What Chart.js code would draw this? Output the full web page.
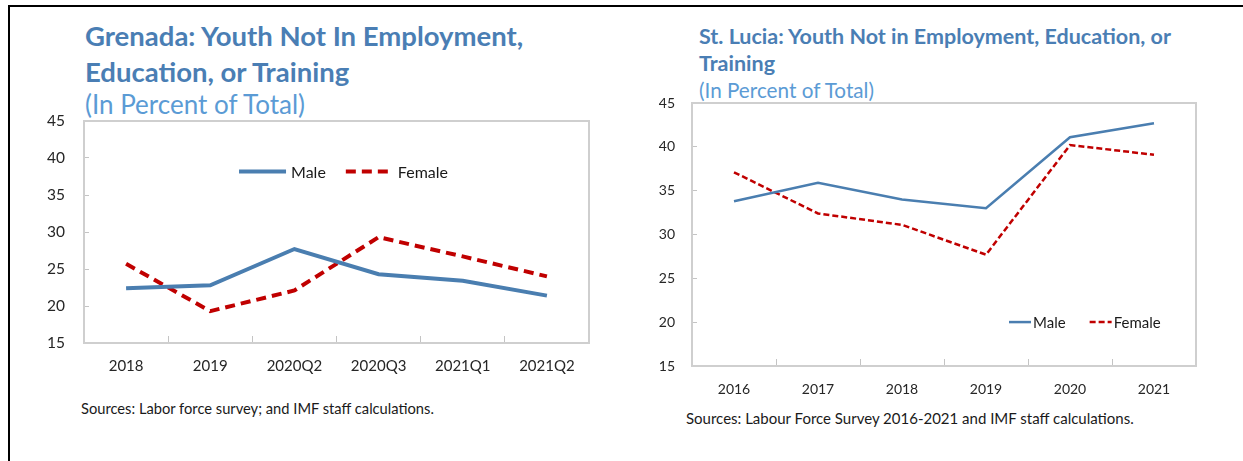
<!DOCTYPE html>
<html>
<head>
<meta charset="utf-8">
<title>Youth Not in Employment, Education, or Training</title>
<script src="https://cdn.jsdelivr.net/npm/chart.js@4.4.1/dist/chart.umd.min.js"></script>
<style>
  html, body { margin: 0; padding: 0; background: #fff; }
  body { width: 1243px; height: 461px; position: relative; overflow: hidden; font-family: Lato, "Open Sans", sans-serif; }
  .frame { position: absolute; left: 8px; top: 5px; width: 1250px; height: 470px; border-top: 2px solid #000; border-left: 2px solid #000; }
  .title { position: absolute; color: #4a7eb4; font-weight: bold; white-space: nowrap; }
  .subtitle { position: absolute; color: #5b9bd5; white-space: nowrap; line-height: 1.2; }
  .source { position: absolute; color: #1a1a1a; white-space: nowrap; }
  canvas { position: absolute; }
  #grenada-title { left: 85px; top: 18px; font-size: 27.5px; line-height: 36px; }
  #grenada-sub { left: 85px; top: 89px; font-size: 26px; }
  #lucia-title { left: 699px; top: 23px; font-size: 21.5px; line-height: 27px; }
  #lucia-sub { left: 699px; top: 78px; font-size: 20.7px; }
  #grenada-source { left: 81px; top: 399px; font-size: 14.7px; }
  #lucia-source { left: 686px; top: 409px; font-size: 15px; }
  #grenada { left: 30px; top: 108px; }
  #stlucia { left: 640px; top: 92px; }
</style>
</head>
<body>
<div class="frame"></div>

<div class="title" id="grenada-title">Grenada: Youth Not In Employment,<br>Education, or Training</div>
<div class="subtitle" id="grenada-sub">(In Percent of Total)</div>
<canvas id="grenada" width="575" height="275"></canvas>
<div class="source" id="grenada-source">Sources: Labor force survey; and IMF staff calculations.</div>

<div class="title" id="lucia-title">St. Lucia: Youth Not in Employment, Education, or<br>Training</div>
<div class="subtitle" id="lucia-sub">(In Percent of Total)</div>
<canvas id="stlucia" width="575" height="305"></canvas>
<div class="source" id="lucia-source">Sources: Labour Force Survey 2016-2021 and IMF staff calculations.</div>

<script>
// data
const grenadaLabels = ["2018", "2019", "2020Q2", "2020Q3", "2021Q1", "2021Q2"];
const grenadaMale = [22.4, 22.8, 27.7, 24.3, 23.4, 21.4];
const grenadaFemale = [25.7, 19.3, 22.1, 29.3, 26.7, 24.0];

const stLuciaLabels = ["2016", "2017", "2018", "2019", "2020", "2021"];
const stLuciaMale = [33.8, 35.9, 34.0, 33.0, 41.1, 42.7];
const stLuciaFemale = [37.1, 32.4, 31.1, 27.7, 40.2, 39.1];

const yMin = 15;
const yMax = 45;
const yStep = 5;

const BLUE = "#4a7eb0";
const RED = "#c00000";
const GRAY = "#c4c4c4";

Chart.defaults.font.family = "Lato, 'Open Sans', sans-serif";
Chart.defaults.color = "#262626";

// light gray box around the plot area
const plotBox = {
    id: "plotBox",
    beforeDatasetsDraw(chart) {
        const { ctx, chartArea } = chart;
        ctx.save();
        ctx.strokeStyle = "#cfcfcf";
        ctx.lineWidth = 2;
        ctx.strokeRect(chartArea.left, chartArea.top, chartArea.right - chartArea.left, chartArea.bottom - chartArea.top);
        ctx.restore();
    }
};

// legend drawn inside the plot area
const insideLegend = {
    id: "insideLegend",
    afterDatasetsDraw(chart, args, opts) {
        const { ctx, chartArea } = chart;
        let x = chartArea.left + opts.x * (chartArea.right - chartArea.left);
        const y = chartArea.top + opts.y * (chartArea.bottom - chartArea.top);
        ctx.save();
        ctx.font = opts.font;
        ctx.textBaseline = "middle";
        chart.data.datasets.forEach((ds) => {
            ctx.beginPath();
            ctx.strokeStyle = ds.borderColor;
            ctx.lineWidth = ds.borderWidth;
            ctx.setLineDash(ds.borderDash || []);
            ctx.moveTo(x, y);
            ctx.lineTo(x + opts.sample, y);
            ctx.stroke();
            x += opts.sample + opts.gap;
            ctx.setLineDash([]);
            ctx.fillStyle = "#1a1a1a";
            ctx.fillText(ds.label, x, y + 1);
            x += ctx.measureText(ds.label).width + opts.spacing;
        });
        ctx.restore();
    }
};

function makeChart(id, cfg) {
    const canvas = document.getElementById(id);
    return new Chart(canvas.getContext("2d"), {
        type: "line",
        data: {
            labels: cfg.labels,
            datasets: [
                {
                    label: "Male",
                    data: cfg.male,
                    borderColor: BLUE,
                    borderWidth: cfg.lineWidth,
                    pointRadius: 0,
                    tension: 0
                },
                {
                    label: "Female",
                    data: cfg.female,
                    borderColor: RED,
                    borderWidth: cfg.lineWidth,
                    borderDash: cfg.dash,
                    pointRadius: 0,
                    tension: 0
                }
            ]
        },
        options: {
            responsive: false,
            animation: false,
            layout: { padding: cfg.padding },
            plugins: {
                legend: { display: false },
                tooltip: { enabled: false },
                insideLegend: cfg.legend
            },
            scales: {
                x: {
                    offset: true,
                    grid: { offset: true, drawOnChartArea: false, tickLength: -7, color: GRAY },
                    border: { display: false },
                    ticks: { padding: cfg.xPad, font: { size: cfg.xFont }, maxRotation: 0, autoSkip: false },
                    afterFit: (scale) => {
                        scale.height = cfg.xHeight;
                        scale.paddingLeft = 0;
                        scale.paddingRight = 0;
                    }
                },
                y: {
                    min: yMin,
                    max: yMax,
                    grid: { drawOnChartArea: false, tickLength: -5, color: GRAY },
                    border: { display: false },
                    ticks: { stepSize: yStep, padding: cfg.yPad, font: { size: cfg.yFont } },
                    afterFit: (scale) => {
                        scale.width = cfg.yWidth;
                        scale.paddingTop = 0;
                        scale.paddingBottom = 0;
                    }
                }
            }
        },
        plugins: [plotBox, insideLegend]
    });
}

makeChart("grenada", {
    labels: grenadaLabels,
    male: grenadaMale,
    female: grenadaFemale,
    lineWidth: 4,
    dash: [10, 6],
    padding: { top: 13, right: 16, left: 0, bottom: 0 },
    xHeight: 40,
    yWidth: 54,
    xPad: 21,
    yPad: 24,
    xFont: 15,
    yFont: 15.5,
    legend: { x: 0.307, y: 0.228, sample: 47, gap: 5, spacing: 20, font: "16px Lato" }
});

makeChart("stlucia", {
    labels: stLuciaLabels,
    male: stLuciaMale,
    female: stLuciaFemale,
    lineWidth: 2.5,
    dash: [6, 3],
    padding: { top: 11, right: 19, left: 0, bottom: 0 },
    xHeight: 31,
    yWidth: 52,
    xPad: 22,
    yPad: 22,
    xFont: 14,
    yFont: 14,
    legend: { x: 0.629, y: 0.833, sample: 22, gap: 2, spacing: 24, font: "15px Lato" }
});
</script>
</body>
</html>
